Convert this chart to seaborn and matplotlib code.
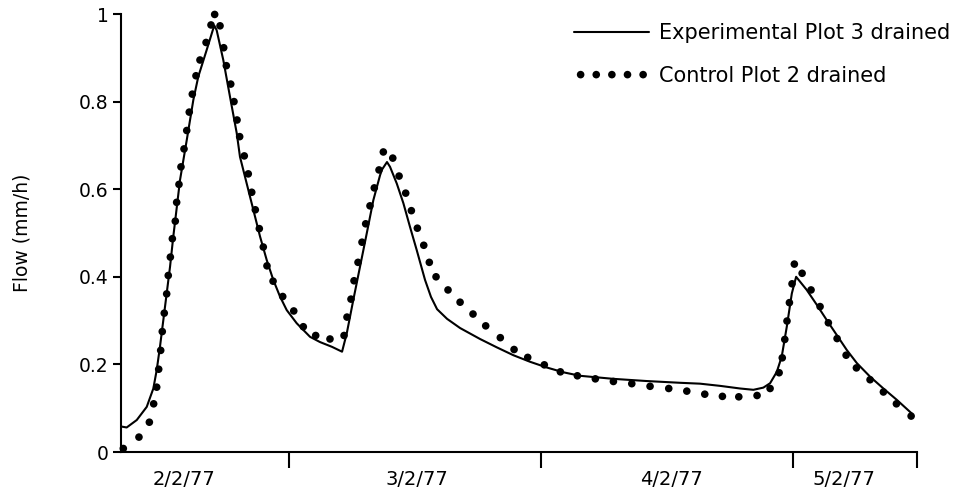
import matplotlib
matplotlib.use("Agg")
import matplotlib.pyplot as plt
import seaborn as sns
import pandas as pd

# Hydrograph of drain flow, 2-5 February 1977 (time in hours from 00:00 on 2/2/77)
exp_hours = [8.07, 8.54, 9.50, 10.45, 11.08, 11.40, 11.71, 12.03, 12.35, 12.67, 12.98,
             13.17, 13.62, 14.26, 14.89, 15.36, 16.16, 16.79, 16.90, 17.11, 17.74, 18.38,
             19.02, 19.33, 19.97, 20.60, 21.24, 21.88, 22.50, 23.14, 23.78, 24.73, 26.00,
             26.95, 28.10, 29.05, 29.50, 30.12, 30.76, 31.40, 32.03, 32.67, 32.86, 33.33,
             33.62, 34.26, 34.89, 35.52, 36.16, 36.95, 37.52, 38.10, 39.05, 40.29, 42.19,
             43.78, 45.36, 46.95, 48.54, 50.12, 51.71, 54.89, 58.07, 61.24, 63.14, 65.05,
             66.95, 68.22, 69.17, 69.81, 70.45, 70.92, 71.40, 71.88, 72.29, 73.30, 74.26,
             75.21, 76.16, 77.11, 78.07, 79.33, 80.60, 81.88, 83.30]
exp_flow = [0.058, 0.056, 0.073, 0.103, 0.145, 0.187, 0.240, 0.301, 0.362, 0.423, 0.492,
            0.530, 0.621, 0.712, 0.804, 0.857, 0.918, 0.967, 0.973, 0.963, 0.895, 0.811,
            0.728, 0.674, 0.613, 0.553, 0.492, 0.438, 0.393, 0.355, 0.324, 0.294, 0.263,
            0.251, 0.240, 0.229, 0.271, 0.347, 0.423, 0.499, 0.575, 0.632, 0.645, 0.662,
            0.651, 0.613, 0.568, 0.514, 0.461, 0.393, 0.354, 0.326, 0.304, 0.283, 0.258,
            0.239, 0.221, 0.206, 0.193, 0.182, 0.174, 0.167, 0.162, 0.158, 0.156, 0.151,
            0.145, 0.142, 0.147, 0.157, 0.183, 0.218, 0.286, 0.362, 0.400, 0.370, 0.336,
            0.301, 0.267, 0.233, 0.203, 0.172, 0.145, 0.119, 0.088]

ctrl_hours = [8.22, 9.71, 10.70, 11.11, 11.40, 11.59, 11.78, 11.93, 12.12, 12.35, 12.50,
              12.70, 12.89, 13.17, 13.30, 13.52, 13.71, 14.00, 14.26, 14.50, 14.79, 15.14,
              15.52, 16.10, 16.57, 16.92, 17.43, 17.78, 18.03, 18.45, 18.76, 19.05, 19.30,
              19.74, 20.12, 20.45, 20.79, 21.17, 21.55, 21.90, 22.48, 23.40, 24.45, 25.36,
              26.54, 27.90, 29.24, 29.52, 29.90, 30.19, 30.57, 30.95, 31.30, 31.71, 32.12,
              32.57, 32.98, 33.88, 34.48, 35.11, 35.65, 36.22, 36.83, 37.36, 38.00, 39.14,
              40.29, 41.52, 42.73, 44.12, 45.43, 46.73, 48.31, 49.84, 51.46, 53.17, 54.89,
              56.64, 58.38, 60.16, 61.88, 63.59, 65.27, 66.83, 68.57, 69.81, 70.67, 70.97,
              71.21, 71.42, 71.65, 71.90, 72.12, 72.86, 73.71, 74.57, 75.36, 76.19, 77.05,
              78.03, 79.33, 80.60, 81.84, 83.24]
ctrl_flow = [0.008, 0.034, 0.068, 0.110, 0.148, 0.189, 0.232, 0.275, 0.317, 0.361, 0.403,
             0.445, 0.487, 0.527, 0.570, 0.611, 0.651, 0.692, 0.734, 0.776, 0.817, 0.859,
             0.895, 0.935, 0.975, 0.999, 0.973, 0.923, 0.882, 0.840, 0.800, 0.758, 0.720,
             0.676, 0.635, 0.593, 0.553, 0.510, 0.468, 0.425, 0.390, 0.355, 0.322, 0.286,
             0.266, 0.258, 0.266, 0.308, 0.349, 0.391, 0.433, 0.479, 0.521, 0.562, 0.603,
             0.644, 0.685, 0.671, 0.630, 0.591, 0.551, 0.511, 0.472, 0.433, 0.400, 0.370,
             0.342, 0.315, 0.288, 0.261, 0.234, 0.216, 0.199, 0.183, 0.174, 0.167, 0.161,
             0.156, 0.150, 0.145, 0.139, 0.132, 0.127, 0.126, 0.129, 0.145, 0.181, 0.215,
             0.257, 0.299, 0.341, 0.384, 0.429, 0.408, 0.370, 0.332, 0.295, 0.259, 0.221,
             0.192, 0.165, 0.137, 0.110, 0.082]

exp_label = "Experimental Plot 3 drained"
ctrl_label = "Control Plot 2 drained"

day_ticks = [24, 48, 72, 83.8]
day_labels = ["2/2/77", "3/2/77", "4/2/77", "5/2/77"]
day_label_hours = [14.0, 36.2, 60.4, 76.8]
flow_ticks = [0, 0.2, 0.4, 0.6, 0.8, 1.0]
flow_tick_labels = ["0", "0.2", "0.4", "0.6", "0.8", "1"]

exp_df = pd.DataFrame({"hours": exp_hours, "flow": exp_flow})
ctrl_df = pd.DataFrame({"hours": ctrl_hours, "flow": ctrl_flow})

sns.set_theme(style="ticks")
plt.rcParams["font.family"] = ["DejaVu Sans"]
plt.rcParams["text.color"] = "black"
plt.rcParams["axes.labelcolor"] = "black"

fig = plt.figure(figsize=(9.55, 4.97), dpi=100)
ax = fig.add_axes([121 / 955, 45 / 497, 796 / 955, 438 / 497])

sns.lineplot(data=exp_df, x="hours", y="flow", ax=ax, color="black", linewidth=1.5,
             estimator=None, sort=False, label=exp_label)
sns.scatterplot(data=ctrl_df, x="hours", y="flow", ax=ax, color="black", s=30,
                edgecolor="none", label=ctrl_label, clip_on=False, zorder=3)

ax.set_xlim(8.0, 83.8)
ax.set_ylim(0, 1.0)

for side in ("top", "right"):
    ax.spines[side].set_visible(False)
for side in ("left", "bottom"):
    ax.spines[side].set_linewidth(1.5)
    ax.spines[side].set_color("black")

ax.set_yticks(flow_ticks)
ax.set_yticklabels(flow_tick_labels)
ax.tick_params(axis="y", direction="out", length=6, width=1.5, pad=3,
               labelsize=13.5, colors="black")

ax.set_xticks(day_ticks)
ax.set_xticklabels([])
ax.set_xticks(day_label_hours, minor=True)
ax.set_xticklabels(day_labels, minor=True)
ax.tick_params(axis="x", which="major", direction="out", length=11.5, width=1.5,
               colors="black")
ax.tick_params(axis="x", which="minor", length=0, pad=13, labelsize=14,
               colors="black")

ax.set_xlabel("")
ax.set_ylabel("Flow (mm/h)", fontsize=13.5, color="black")
ax.yaxis.set_label_coords(-0.112, 0.5)

leg = ax.legend(loc="upper right", bbox_to_anchor=(950 / 955, 474 / 497),
                bbox_transform=fig.transFigure, frameon=False, fontsize=15,
                handlelength=3.6, handletextpad=0.45, labelspacing=1.1,
                scatterpoints=5, scatteryoffsets=[0.5], borderpad=0,
                borderaxespad=0)
for txt in leg.get_texts():
    txt.set_color("black")

fig.savefig("out.png", dpi=100, facecolor="white")
